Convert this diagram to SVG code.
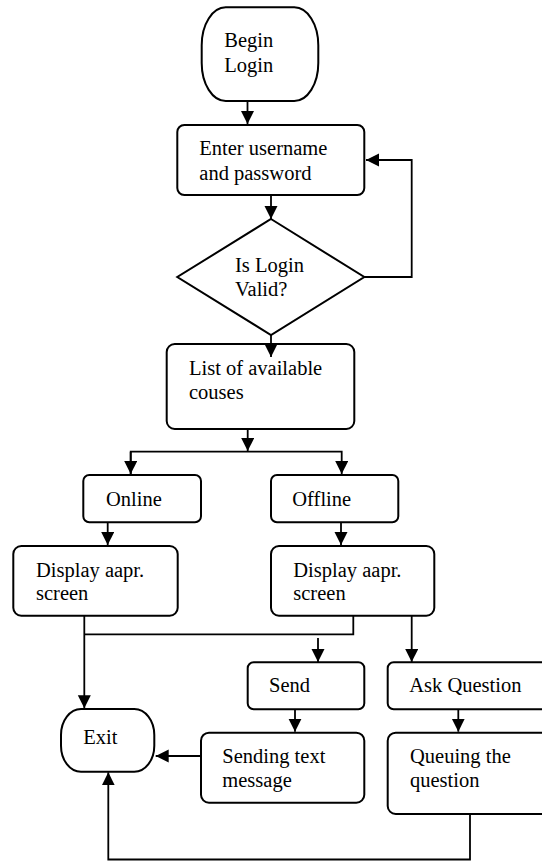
<svg xmlns="http://www.w3.org/2000/svg" width="542" height="861" viewBox="0 0 542 861">
<style>
.box{fill:#fff;stroke:#000;stroke-width:2}
.t{font-family:"Liberation Serif","Times New Roman",serif;font-size:20.5px;fill:#000}
.c{fill:none;stroke:#000;stroke-width:1.8}
</style>
<defs>
<marker id="ah" markerUnits="userSpaceOnUse" markerWidth="14" markerHeight="14" refX="13" refY="6.5" orient="auto">
<path d="M0,0 L13,6.5 L0,13 z" fill="#000"/>
</marker>
</defs>
<rect width="542" height="861" fill="#fff"/>
<g id="begin">
<rect class="box" x="201.7" y="7.3" width="116.6" height="93.7" rx="24" ry="38"/>
<text class="t" x="224.3" y="47.3">Begin</text>
<text class="t" x="224.3" y="72.3">Login</text>
</g>
<g id="enter">
<rect class="box" x="177.3" y="125" width="187" height="70" rx="7"/>
<text class="t" x="199.3" y="155">Enter username</text>
<text class="t" x="199.3" y="180">and password</text>
</g>
<g id="valid">
<polygon class="box" points="271,219 364.3,277 271,335 177.3,277"/>
<text class="t" x="235" y="271.7">Is Login</text>
<text class="t" x="235" y="295.7">Valid?</text>
</g>
<g id="list">
<rect class="box" x="166.7" y="344" width="187.6" height="85" rx="8"/>
<text class="t" x="189" y="375">List of available</text>
<text class="t" x="189" y="399">couses</text>
</g>
<g id="online">
<rect class="box" x="83.3" y="475" width="117.7" height="47.3" rx="6"/>
<text class="t" x="106" y="505.7">Online</text>
</g>
<g id="offline">
<rect class="box" x="271" y="475" width="127.3" height="47.3" rx="6"/>
<text class="t" x="292.3" y="505.7">Offline</text>
</g>
<g id="display1">
<rect class="box" x="13.3" y="546" width="164.4" height="69.7" rx="8"/>
<text class="t" x="36" y="577.3">Display aapr.</text>
<text class="t" x="36" y="600">screen</text>
</g>
<g id="display2">
<rect class="box" x="271" y="546" width="163.3" height="69.7" rx="8"/>
<text class="t" x="293.3" y="577.3">Display aapr.</text>
<text class="t" x="293.3" y="600">screen</text>
</g>
<g id="send">
<rect class="box" x="247.7" y="662.3" width="116.6" height="47" rx="6"/>
<text class="t" x="269" y="692.3">Send</text>
</g>
<g id="ask">
<rect class="box" x="387.7" y="662.3" width="162" height="47" rx="6"/>
<text class="t" x="409.3" y="692.3">Ask Question</text>
</g>
<g id="exit">
<rect class="box" x="61" y="709" width="93.3" height="62.7" rx="20" ry="26"/>
<text class="t" x="83.3" y="744.3">Exit</text>
</g>
<g id="sending">
<rect class="box" x="201" y="732.7" width="163.3" height="70" rx="8"/>
<text class="t" x="222.3" y="763.3">Sending text</text>
<text class="t" x="222.3" y="786.7">message</text>
</g>
<g id="queuing">
<rect class="box" x="387.7" y="732.7" width="162" height="81.3" rx="8"/>
<text class="t" x="410" y="763.3">Queuing the</text>
<text class="t" x="410" y="786.7">question</text>
</g>
<g id="connectors">
<path class="c" d="M247.5,101 V124" marker-end="url(#ah)"/>
<path class="c" d="M271,195 V219" marker-end="url(#ah)"/>
<path class="c" d="M364.3,277 H411.7 V160 H366" marker-end="url(#ah)"/>
<path class="c" d="M271,335 V357" marker-end="url(#ah)"/>
<path class="c" d="M247.7,429 V451" marker-end="url(#ah)"/>
<path class="c" d="M130.7,474 V451.7 H341.7 V474" marker-end="url(#ah)"/>
<path class="c" d="M130.7,452 V474" marker-end="url(#ah)"/>
<path class="c" d="M107.7,522.3 V545" marker-end="url(#ah)"/>
<path class="c" d="M341,522.3 V545" marker-end="url(#ah)"/>
<path class="c" d="M84.3,615.7 V708.3" marker-end="url(#ah)"/>
<path class="c" d="M84.3,634.3 H353.3 V615.7"/>
<path class="c" d="M318,638 V662" marker-end="url(#ah)"/>
<path class="c" d="M411.7,615.7 V662" marker-end="url(#ah)"/>
<path class="c" d="M295,709.3 V731.7" marker-end="url(#ah)"/>
<path class="c" d="M458.3,709.3 V731.7" marker-end="url(#ah)"/>
<path class="c" d="M201,756 H155.7" marker-end="url(#ah)"/>
<path class="c" d="M470,814 V859.5 H108.3 V772.3" marker-end="url(#ah)"/>
</g>
</svg>
